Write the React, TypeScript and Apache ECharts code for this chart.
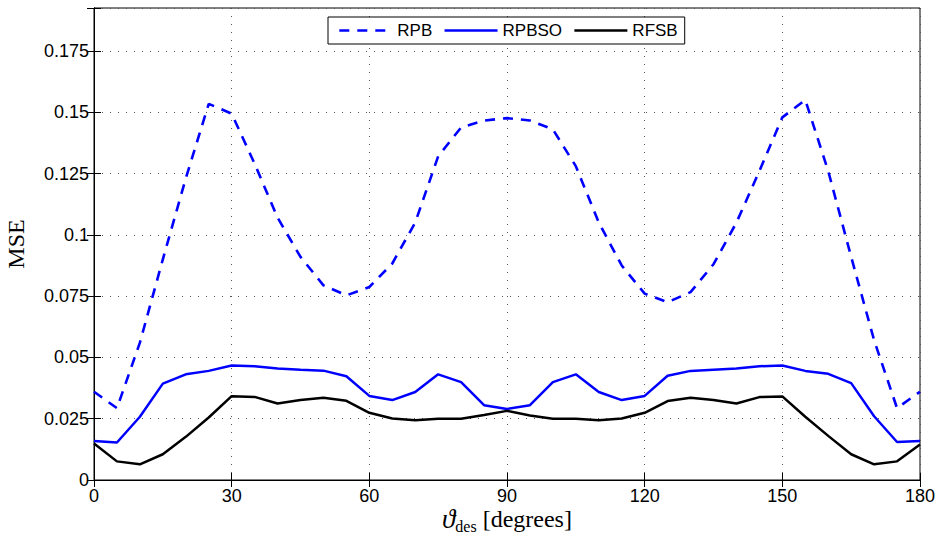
import React, { useEffect, useRef } from "react";
import * as echarts from "echarts";

const angles = [0, 5, 10, 15, 20, 25, 30, 35, 40, 45, 50, 55, 60, 65, 70, 75, 80, 85, 90, 95, 100, 105, 110, 115, 120, 125, 130, 135, 140, 145, 150, 155, 160, 165, 170, 175, 180];

const rpb = [0.036, 0.0293, 0.056, 0.09, 0.123, 0.1534, 0.1494, 0.129, 0.107, 0.091, 0.0794, 0.0753, 0.0787, 0.0883, 0.105, 0.132, 0.1438, 0.1466, 0.1476, 0.1466, 0.143, 0.128, 0.105, 0.0875, 0.076, 0.0725, 0.0766, 0.088, 0.105, 0.126, 0.1479, 0.155, 0.126, 0.091, 0.057, 0.0293, 0.036];

const rpbso = [0.0159, 0.0153, 0.0258, 0.0393, 0.0431, 0.0445, 0.0467, 0.0464, 0.0455, 0.045, 0.0446, 0.0423, 0.0343, 0.0326, 0.0359, 0.0431, 0.0399, 0.0305, 0.029, 0.0305, 0.0399, 0.0431, 0.0359, 0.0326, 0.0343, 0.0425, 0.0445, 0.045, 0.0455, 0.0464, 0.0467, 0.0445, 0.0433, 0.0395, 0.026, 0.0155, 0.0159];

const rfsb = [0.0149, 0.0076, 0.0064, 0.0105, 0.0176, 0.0255, 0.0342, 0.0339, 0.0312, 0.0326, 0.0335, 0.0323, 0.0274, 0.0251, 0.0244, 0.025, 0.025, 0.0265, 0.0282, 0.0263, 0.025, 0.025, 0.0244, 0.0251, 0.0274, 0.0322, 0.0335, 0.0326, 0.0312, 0.0338, 0.0341, 0.0258, 0.018, 0.0105, 0.0064, 0.0076, 0.0145];

const seriesNames = ["RPB", "RPBSO", "RFSB"];
const xTicks = { min: 0, max: 180, interval: 30 };
const yTicks = { min: 0, max: 0.1925, interval: 0.025 };

const sans = "Liberation Sans, Arial, Helvetica, sans-serif";
const serif = "Liberation Serif, Times New Roman, serif";

export default function App() {
  const ref = useRef<HTMLDivElement>(null);
  useEffect(() => {
    if (!ref.current) return;
    const chart = echarts.init(ref.current, undefined, { renderer: "svg" });
    const pairs = (vals: number[]) => angles.map((a, i) => [a, vals[i]]);
    const splitLine = {
      show: true,
      lineStyle: { color: "#555", width: 1, type: [1, 7] as any },
    };
    chart.setOption({
      animation: false,
      backgroundColor: "#fff",
      grid: {
        left: 94,
        right: 17,
        top: 8,
        bottom: 55,
        containLabel: false,
        outerBoundsMode: "none",
        show: true,
        borderColor: "#000",
        borderWidth: 1,
      },
      legend: {
        data: seriesNames,
        left: 328,
        top: 17,
        padding: [5, 7, 5, 10],
        itemGap: 11,
        itemWidth: 53,
        itemHeight: 18,
        borderColor: "#000",
        borderWidth: 1,
        backgroundColor: "#fff",
        itemStyle: { opacity: 0 },
        lineStyle: { width: 2.6 },
        textStyle: { fontSize: 17, color: "#000", fontFamily: sans },
      },
      xAxis: [
        {
          type: "value",
          ...xTicks,
          axisLine: { show: true, lineStyle: { color: "#000", width: 1 } },
          axisTick: { show: true, inside: true, length: 7, lineStyle: { color: "#000" } },
          axisLabel: { fontSize: 18, color: "#000", fontFamily: sans, margin: 7 },
          splitLine,
          name: "{v|ϑ}{s|des}{t| [degrees]}",
          nameLocation: "middle",
          nameGap: 24,
          nameMoveOverlap: false,
          nameTextStyle: {
            rich: {
              v: { fontSize: 27, fontStyle: "italic", fontFamily: serif, color: "#000", lineHeight: 30 },
              s: { fontSize: 16, fontFamily: serif, color: "#000", verticalAlign: "bottom", lineHeight: 18 },
              t: { fontSize: 24, fontFamily: serif, color: "#000", lineHeight: 30 },
            },
          },
        },
        {
          type: "value",
          position: "top",
          ...xTicks,
          axisLine: { show: true, lineStyle: { color: "#000", width: 1 } },
          axisTick: { show: true, inside: true, length: 7, lineStyle: { color: "#000" } },
          axisLabel: { show: false },
          splitLine: { show: false },
        },
      ],
      yAxis: [
        {
          type: "value",
          ...yTicks,
          axisLine: { show: true, lineStyle: { color: "#000", width: 1 } },
          axisTick: { show: true, inside: true, length: 7, lineStyle: { color: "#000" } },
          axisLabel: {
            fontSize: 18,
            color: "#000",
            fontFamily: sans,
            margin: 5,
            formatter: (v: number) => {
              const k = Math.round(v / 0.025);
              if (Math.abs(k * 0.025 - v) > 1e-9) return "";
              return String(parseFloat(v.toFixed(4)));
            },
          },
          splitLine,
          name: "MSE",
          nameLocation: "middle",
          nameRotate: 90,
          nameGap: 66,
          nameMoveOverlap: false,
          nameTextStyle: { fontSize: 24, fontFamily: serif, color: "#000" },
        },
        {
          type: "value",
          position: "right",
          ...yTicks,
          axisLine: { show: true, lineStyle: { color: "#000", width: 1 } },
          axisTick: { show: true, inside: true, length: 7, lineStyle: { color: "#000" } },
          axisLabel: { show: false },
          splitLine: { show: false },
        },
      ],
      series: [
        {
          name: seriesNames[0],
          type: "line",
          data: pairs(rpb),
          symbol: "none",
          lineStyle: { color: "#0000ff", width: 2.6, type: [10, 8] as any },
          itemStyle: { color: "#0000ff" },
        },
        {
          name: seriesNames[1],
          type: "line",
          data: pairs(rpbso),
          symbol: "none",
          lineStyle: { color: "#0000ff", width: 2.5 },
          itemStyle: { color: "#0000ff" },
        },
        {
          name: seriesNames[2],
          type: "line",
          data: pairs(rfsb),
          symbol: "none",
          lineStyle: { color: "#000", width: 2.5 },
          itemStyle: { color: "#000" },
        },
      ],
    });
    return () => chart.dispose();
  }, []);
  return (
    <div
      ref={ref}
      style={{ position: "absolute", left: 0, top: 0, width: 937, height: 535 }}
    />
  );
}
